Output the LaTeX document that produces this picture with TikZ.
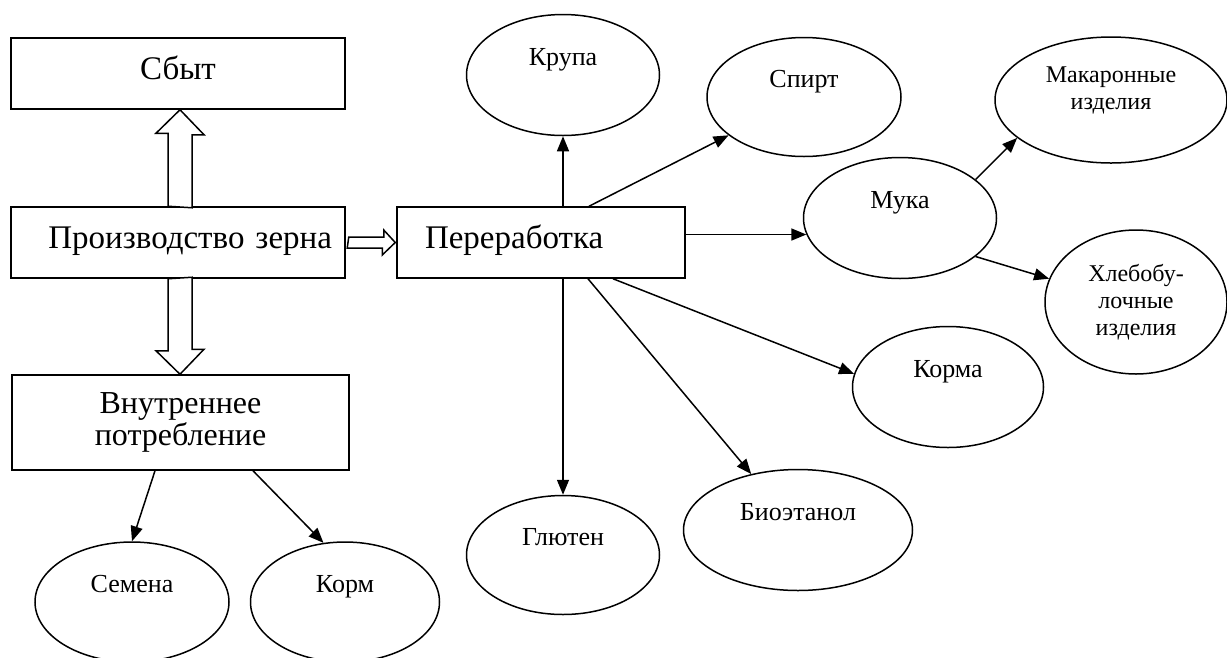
\documentclass[tikz,border=0pt]{standalone}
\usepackage{fontspec}
\setmainfont{Liberation Serif}
\usetikzlibrary{%
        arrows.meta,
        shapes.geometric
    }
\tikzset{%
    box/.style={draw, line width=1.5pt, inner sep=0pt,
        font=\fontsize{33}{36}\selectfont},
    boxtext/.style={text height=20pt, text depth=8pt},
    oval/.style={draw, ellipse, line width=1.5pt, inner sep=0pt,
        font=\fontsize{26}{30}\selectfont},
    toptext/.style={text height=8pt, text depth=28pt},
    smalltext/.style={align=center, inner sep=0pt,
        font=\fontsize{24}{27}\selectfont},
    link/.style={line width=1.5pt, -{Triangle[length=15pt, width=12pt]}},
    hollow/.style={draw, line width=1.5pt, fill=white}
}

\begin{document}
\begin{tikzpicture}[x=1pt, y=-1pt]
    \useasboundingbox (0, 0) rectangle (1227, 657);

    % Left column
    \node[box, boxtext, minimum width=334pt, minimum height=71pt]
        (sbyt) at (178, 73.5) {Сбыт};
    \node[%
        box,
        boxtext,
        align=right,
        text width=308pt,
        inner xsep=13pt,
        minimum height=71pt
    ] (proizv) at (178, 242.5) {Производство зерна};
    \node[%
        box,
        align=center,
        font=\fontsize{32}{33}\selectfont,
        minimum width=337pt,
        minimum height=95pt
    ] (vnutr) at (180.5, 422.5) {Внутреннее\\[-1pt]потребление};
    \node[%
        box,
        boxtext,
        align=left,
        text width=232pt,
        inner xsep=28pt,
        minimum height=71pt
    ] (perer) at (541, 242.5) {Переработка};

    % Hollow arrows
    \draw[hollow] ([xshift=-10pt] proizv.north) -- ++(0, -73) -- ++(-12, 0)
        -- ([xshift=2pt] sbyt.south) -- ++(24, 25) -- ++(-12, 0)
        -- ++(0, 73) -- cycle;
    \draw[hollow] ([xshift=-10pt] proizv.south) -- ++(0, 72) -- ++(-12, 0)
        -- ([xshift=-0.5pt] vnutr.north) -- ++(24, -25) -- ++(-12, 0)
        -- ++(0, -72) -- cycle;
    \draw[hollow] ([xshift=3pt, yshift=5.5pt] proizv.east) -- ++(35, 0)
        -- ++(0, -7) -- ([xshift=-1pt] perer.west) -- ++(-13, 12.5)
        -- ++(0, -7) -- ++(-35, 0) -- cycle;

    % Products
    \node[oval, toptext, minimum width=193pt, minimum height=121pt]
        (krupa) at (563, 75) {Крупа};
    \node[oval, toptext, minimum width=194pt, minimum height=119pt]
        (spirt) at (804, 97) {Спирт};
    \node[oval, minimum width=232pt, minimum height=126pt]
        (makar) at (1111, 100) {};
    \node[smalltext] (makartext) at ([yshift=10pt] makar.center)
        {Макаронные\\изделия};
    \node[oval, toptext, minimum width=193pt, minimum height=121pt]
        (muka) at (900, 218) {Мука};
    \node[oval, smalltext, draw, minimum width=182pt, minimum height=144pt]
        (hleb) at (1136, 302) {Хлебобу-\\лочные\\изделия};
    \node[oval, toptext, minimum width=191pt, minimum height=121pt]
        (korma) at (948, 387) {Корма};
    \node[oval, toptext, minimum width=229pt, minimum height=121pt]
        (bioet) at (798, 530) {Биоэтанол};
    \node[oval, toptext, minimum width=193pt, minimum height=119pt]
        (gluten) at (563, 555) {Глютен};
    \node[oval, toptext, minimum width=194pt, minimum height=120pt]
        (semena) at (132, 602) {Семена};
    \node[oval, toptext, minimum width=189pt, minimum height=120pt]
        (korm) at (345, 602) {Корм};

    % Connecting
    \draw[link] (perer.north -| krupa.south) -- (krupa.south);
    \draw[link] ([xshift=48pt] perer.north) -- (spirt);
    \draw[link] (perer.east |- muka.190) -- (muka.190);
    \draw[link] ([xshift=72pt] perer.south) -- (korma.172);
    \draw[link] ([xshift=47pt] perer.south) -- (bioet);
    \draw[link] (perer.south -| gluten.north) -- (gluten.north);

    \draw[link] (muka.27) -- (makar.202);
    \draw[link] (muka.-27) -- (hleb.165);

    \draw[link] ([xshift=-25.5pt] vnutr.south) -- (semena.north);
    \draw[link] ([xshift=72.5pt] vnutr.south) -- (korm.110);

\end{tikzpicture}
\end{document}
